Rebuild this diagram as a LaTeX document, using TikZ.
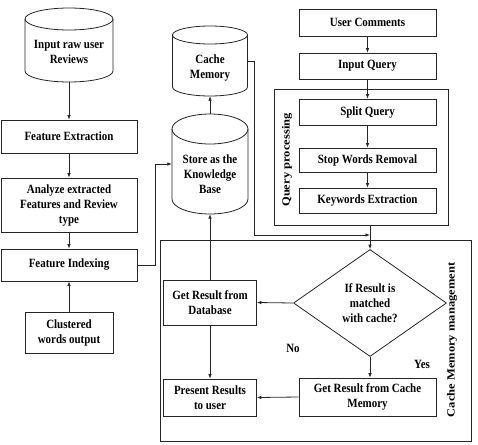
\documentclass[tikz,border=0pt]{standalone}
\usepackage{fontspec}
\setmainfont{Liberation Serif}[FakeStretch=0.87]
\newfontfamily\rotfont{Liberation Serif}[FakeStretch=1.14]
\usetikzlibrary{arrows.meta,shapes.geometric}
\newcommand\mycyl[5]{% cx, top, bottom, rx, ry
  \draw[line] ({#1-#4},{#2+#5}) -- ({#1-#4},{#3-#5})
    arc[start angle=180,end angle=0,x radius=#4,y radius=#5] -- ({#1+#4},{#2+#5});
  \draw[line] (#1,{#2+#5}) ellipse[x radius=#4,y radius=#5];}
\begin{document}
\begin{tikzpicture}[x=1pt,y=-1pt,
  every node/.style={font=\fontsize{12.6}{15}\selectfont\bfseries, align=center, inner sep=0pt},
  rotlabel/.style={rotate=90, font=\rotfont\fontsize{11}{13}\selectfont\bfseries},
  line/.style={draw=black!85, line width=0.8pt},
  box/.style n args={2}{line, rectangle, minimum width=#1, minimum height=#2},
  hold/.style n args={2}{rectangle, minimum width=#1, minimum height=#2},
  arr/.style={line, -{Latex[length=4.5pt,width=3.6pt]}}]
\useasboundingbox (0,0) rectangle (478,444);

% group frames
\draw[line] (274,89) rectangle (448,225);
\draw[line] (160,240) rectangle (471,441);
\node[rotlabel] (qpl) at (287,160) {Query processing};
\node[rotlabel] (cml) at (452,340) {Cache Memory management};

% cylinders
\node[hold={88pt}{74pt}] (raw) at (69,45) {};
\mycyl{69}{8}{82}{44}{11}
\node (rawt) at (69,52) {Input raw user\\Reviews};

\node[hold={75pt}{70pt}] (cache) at (210,61) {};
\mycyl{210}{26}{96}{37.5}{9}
\node (cachet) at (210,67.5) {Cache\\Memory};

\node[hold={76pt}{100pt}] (store) at (210,164) {};
\mycyl{210}{114}{214}{38}{15}
\node (storet) at (210,174) {Store as the\\Knowledge\\Base};

% left column
\node[box={136pt}{33pt}] (fe) at (69,136.5) {Feature Extraction};
\node[box={136pt}{54pt}] (an) at (69,205) {Analyze extracted\\Features and Review\\type};
\node[box={136pt}{32pt}] (fi) at (69,265) {Feature Indexing};
\node[box={88pt}{41pt}] (cl) at (69,332.5) {Clustered\\words output};

% right column
\node[box={137pt}{27pt}] (uc) at (367.5,22.5) {User Comments};
\node[box={137pt}{26pt}] (iq) at (367.5,66) {Input Query};
\node[box={137pt}{26pt}] (sq) at (367.5,112) {Split Query};
\node[box={137pt}{24pt}] (sw) at (367.5,160) {Stop Words Removal};
\node[box={137pt}{25pt}] (ke) at (367.5,200.5) {Keywords Extraction};

% cache management
\node[line, diamond, aspect=1.43, minimum width=153pt, minimum height=107pt] (dia) at (370,303) {If Result is\\matched\\with cache?};
\node[box={93pt}{45pt}] (gdb) at (210,302.5) {Get Result from\\Database};
\node[box={93pt}{37pt}] (pr) at (210,397.5) {Present Results\\to user};
\node[box={137pt}{38pt}] (gc) at (367.5,397) {Get Result from Cache\\Memory};
\node (no) at (293,348) {No};
\node (yes) at (422,364) {Yes};

\coordinate (qpb) at (370,225);
\coordinate (j) at (370,235);

% connectors
\draw[arr] (raw.south) -- (fe.north);
\draw[arr] (fe.south) -- (an.north);
\draw[arr] (an.south) -- (fi.north);
\draw[arr] (cl.north) -- (fi.south);
\draw[arr] (fi.east) -- ++(18,0) |- (store.west);
\draw[arr] (store.north) -- (cache.south);
\draw[arr] (cache.east) -- ++(7,0) |- (j);
\draw[arr] (uc.south) -- (iq.north);
\draw[arr] (iq.south) -- (sq.north);
\draw[arr] (sq.south) -- (sw.north);
\draw[arr] (sw.south) -- (ke.north);
\draw[arr] (qpb) -- (dia.north);
\draw[arr] (dia.west) -- (gdb.east);
\draw[arr] (dia.south) -- (dia.south |- gc.north);
\draw[arr] (gc.west) -- (pr.east);
\draw[arr] (gdb.south) -- (pr.north);
\draw[arr] (gdb.north) -- (store.south);
\end{tikzpicture}
\end{document}
